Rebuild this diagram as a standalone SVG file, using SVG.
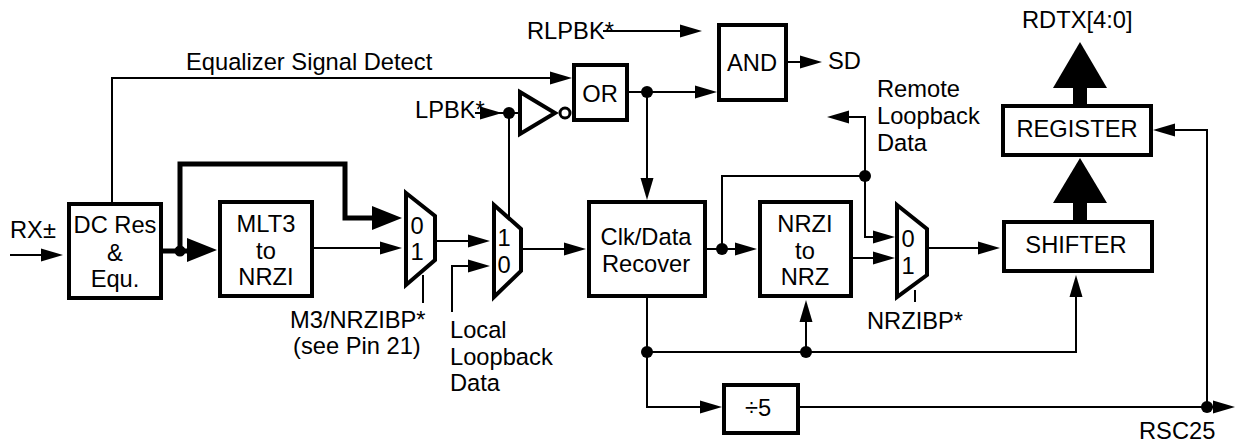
<svg xmlns="http://www.w3.org/2000/svg" width="1235" height="444" viewBox="0 0 1235 444">
<style>
text{font-family:"Liberation Sans",Arial,sans-serif;font-size:23.7px;fill:#000}
.m{text-anchor:middle}
.b{fill:#fff;stroke:#000;stroke-width:4}
.l{fill:none;stroke:#000;stroke-width:2}
.t{fill:none;stroke:#000;stroke-width:5}
.w{fill:none;stroke:#000;stroke-width:14}
.d{fill:#000}
</style>
<defs>
<path id="ar" d="M-22 -6.500L0 0L-22 6.500Z" fill="#000"/>
<path id="al" d="M-30 -12L0 0L-30 12Z" fill="#000"/>
</defs>
<rect width="1235" height="444" fill="#fff"/>
<g id="connectors">
<path class="l" d="M10 255H44"/><use href="#ar" x="63" y="255"/>
<path class="t" d="M163 251H190"/><use href="#al" x="217" y="250"/>
<path class="t" d="M180 251V164H345V218H376"/><use href="#al" x="402" y="218"/>
<circle class="d" cx="180" cy="251" r="5.500"/>
<path class="l" d="M314 248H384"/><use href="#ar" x="402" y="248"/>
<path class="l" d="M437 241H470"/><use href="#ar" x="490" y="241"/>
<path class="l" d="M423 275V303"/>
<path class="l" d="M452 312V266H470"/><use href="#ar" x="490" y="266"/>
<path class="l" d="M523 249H566"/><use href="#ar" x="586" y="249"/>
<path class="l" d="M112 202V78H553"/><use href="#ar" x="572" y="78"/>
<path class="l" d="M629 92H699"/><use href="#ar" x="717" y="92"/>
<circle class="d" cx="647" cy="92" r="6"/>
<path class="l" d="M647 92V181"/><use href="#ar" transform="translate(647 200) rotate(90)"/>
<path class="l" d="M788 62H802"/><use href="#ar" x="822" y="62"/>
<path class="l" d="M603 31H684"/><use href="#ar" x="702" y="31"/>
<path class="l" d="M475 113H518"/><use href="#ar" x="502" y="113"/>
<circle class="d" cx="509" cy="113" r="6"/>
<path class="l" d="M509 113V218"/>
<path class="l" d="M707 249H740"/><use href="#ar" x="757" y="249"/>
<circle class="d" cx="722" cy="249" r="6"/>
<path class="l" d="M722 249V176H865V237H877"/><use href="#ar" x="895" y="237"/>
<circle class="d" cx="865" cy="176" r="6"/>
<path class="l" d="M865 176V117H847"/><use href="#ar" transform="translate(827 117) rotate(180)"/>
<path class="l" d="M853 258H877"/><use href="#ar" x="895" y="258"/>
<path class="l" d="M915 290V302"/>
<path class="l" d="M929 248H982"/><use href="#ar" x="1000" y="248"/>
<path class="l" d="M647 298V407H704"/><use href="#ar" x="722" y="407"/>
<circle class="d" cx="647" cy="352" r="6"/>
<path class="l" d="M647 352H1076V293"/><use href="#ar" transform="translate(1076 275) rotate(-90)"/>
<circle class="d" cx="806" cy="352" r="6"/>
<path class="l" d="M806 352V318"/><use href="#ar" transform="translate(806 300) rotate(-90)"/>
<path class="l" d="M800 407H1222"/><use href="#ar" x="1235" y="407"/>
<circle class="d" cx="1207" cy="407" r="6"/>
<path class="l" d="M1207 407V130H1174"/><use href="#ar" transform="translate(1153 130) rotate(180)"/>
<path class="w" d="M1080 220V200"/><path class="d" d="M1053 203L1080 158L1107 203Z"/>
<path class="w" d="M1080 104V85"/><path class="d" d="M1053 88L1080 42L1107 88Z"/>
</g>
<g id="dcres"><rect class="b" x="69" y="204" width="92" height="94"/><text class="m" x="115" y="233">DC Res</text><text class="m" x="115" y="261">&amp;</text><text class="m" x="115" y="287">Equ.</text></g>
<g id="mlt3"><rect class="b" x="220" y="202" width="92" height="94"/><text class="m" x="266" y="232">MLT3</text><text class="m" x="266" y="259">to</text><text class="m" x="266" y="285">NRZI</text></g>
<g id="mux1"><path class="b" d="M406 193L435 216V260L406 285Z"/><text class="m" x="417" y="234">0</text><text class="m" x="417" y="260">1</text></g>
<g id="mux2"><path class="b" d="M494 205L521 229V271L494 297Z"/><text class="m" x="504" y="246">1</text><text class="m" x="504" y="273">0</text></g>
<g id="inverter"><path class="b" d="M520 92L555 113L520 134Z"/><circle class="b" style="stroke-width:3" cx="565" cy="113" r="5"/></g>
<g id="or"><rect class="b" x="574" y="65" width="53" height="55"/><text class="m" x="600" y="102">OR</text></g>
<g id="and"><rect class="b" x="719" y="25" width="67" height="75"/><text class="m" x="752" y="71">AND</text></g>
<g id="clk"><rect class="b" x="589" y="202" width="116" height="94"/><text class="m" x="646" y="245">Clk/Data</text><text class="m" x="646" y="272">Recover</text></g>
<g id="nrzi"><rect class="b" x="760" y="202" width="91" height="94"/><text class="m" x="805" y="232">NRZI</text><text class="m" x="805" y="259">to</text><text class="m" x="805" y="285">NRZ</text></g>
<g id="mux3"><path class="b" d="M897 205L927 229V275L897 297Z"/><text class="m" x="908" y="247">0</text><text class="m" x="908" y="274">1</text></g>
<g id="shifter"><rect class="b" x="1004" y="222" width="148" height="49"/><text class="m" x="1076" y="253">SHIFTER</text></g>
<g id="register"><rect class="b" x="1003" y="106" width="148" height="49"/><text class="m" x="1077" y="137">REGISTER</text></g>
<g id="div5"><rect class="b" x="724" y="385" width="74" height="48"/><text class="m" x="758" y="416">÷5</text></g>
<g id="labels">
<text x="10" y="238">RX±</text>
<text x="186" y="70">Equalizer Signal Detect</text>
<text x="527" y="39">RLPBK*</text>
<text x="415" y="118">LPBK*</text>
<text x="828" y="69">SD</text>
<text x="877" y="97">Remote</text><text x="877" y="124">Loopback</text><text x="877" y="151">Data</text>
<text x="1022" y="28">RDTX[4:0]</text>
<text x="290" y="328">M3/NRZIBP*</text><text x="293" y="354">(see Pin 21)</text>
<text x="450" y="338">Local</text><text x="450" y="365">Loopback</text><text x="450" y="391">Data</text>
<text x="867" y="329">NRZIBP*</text>
<text x="1139" y="439">RSC25</text>
</g>
</svg>
